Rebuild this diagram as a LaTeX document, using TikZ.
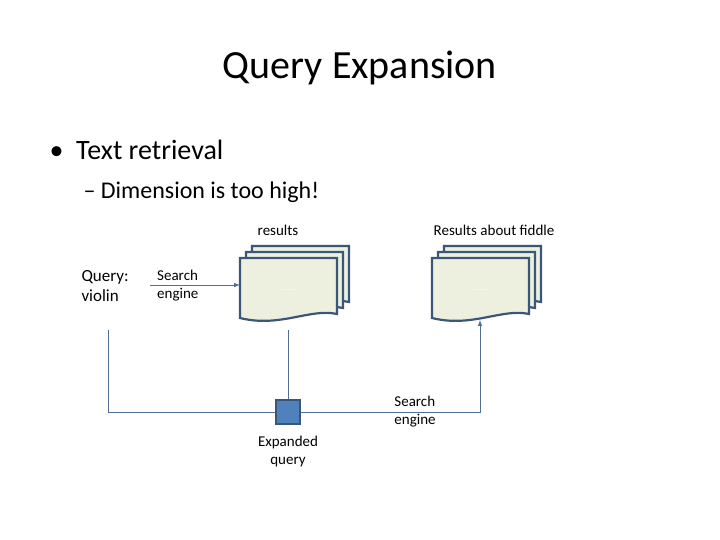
\documentclass[tikz,border=0pt]{standalone}
\usepackage{fontspec}
\setmainfont{Carlito}
\definecolor{ln}{HTML}{4F6F95}
\definecolor{dk}{HTML}{3B5777}
\definecolor{pg}{HTML}{EDF0DE}
\definecolor{bx}{HTML}{4F81BD}
\begin{document}
\begin{tikzpicture}[x=1pt,y=-1pt,
  sheet/.style={draw=dk,line width=2.2pt,fill=pg},
  lbl/.style={font=\fontsize{15}{18}\selectfont,align=left,inner sep=0pt},
  conn/.style={draw=ln,line width=1pt}]
\useasboundingbox (0,0) rectangle (720,540);
\node[font=\fontsize{40}{44}\selectfont] (title) at (360,68) {Query Expansion};
\node[font=\fontsize{28}{32}\selectfont,anchor=west] (b1) at (46,150) {\textbullet\ \ Text retrieval};
\node[font=\fontsize{24}{28}\selectfont,anchor=west] (b2) at (80,192) {– Dimension is too high!};
\newcommand\docstack[3]{%
 \foreach \d in {12,6,0}{
  \path[sheet] (#1+\d,#2-\d) -- (#1+97+\d,#2-\d) -- (#1+97+\d,#2+56-\d)
   .. controls (#1+70+\d,#2+50-\d) and (#1+40+\d,#2+70-\d) .. (#1+\d,#2+60-\d) -- cycle;}
 \node[font=\fontsize{10}{12}\selectfont,text=white] (#3) at (#1+48,#2+32) {......};}
\docstack{240}{258}{d1}
\docstack{432}{258}{d2}
\node[lbl] (res) at (278,230) {results};
\node[lbl] (res2) at (494,230) {Results about fiddle};
\node[font=\fontsize{17}{20}\selectfont,align=left,anchor=west] (q) at (78,286) {Query:\\violin};
\node[lbl,anchor=west] (se1) at (157,286) {Search\\engine};
\node[lbl] (se2) at (415,412) {Search\\engine};
\node[lbl,align=center] (eq) at (288,451) {Expanded\\query};
\node[draw=dk,line width=1.5pt,fill=bx,minimum size=24pt,inner sep=0pt] (box) at (288,412) {};
\coordinate (qa) at (108,330);
\coordinate (ar) at (480,320);
\coordinate (st) at (150,285);
\coordinate (dt) at (240,285);
\coordinate (db) at (288,330);
\draw[conn,-latex] (st) -- (dt);
\draw[conn] (qa) |- (box.west);
\draw[conn] (db) -- (box.north);
\draw[conn,-latex] (box.east) -| (ar);
\end{tikzpicture}
\end{document}
